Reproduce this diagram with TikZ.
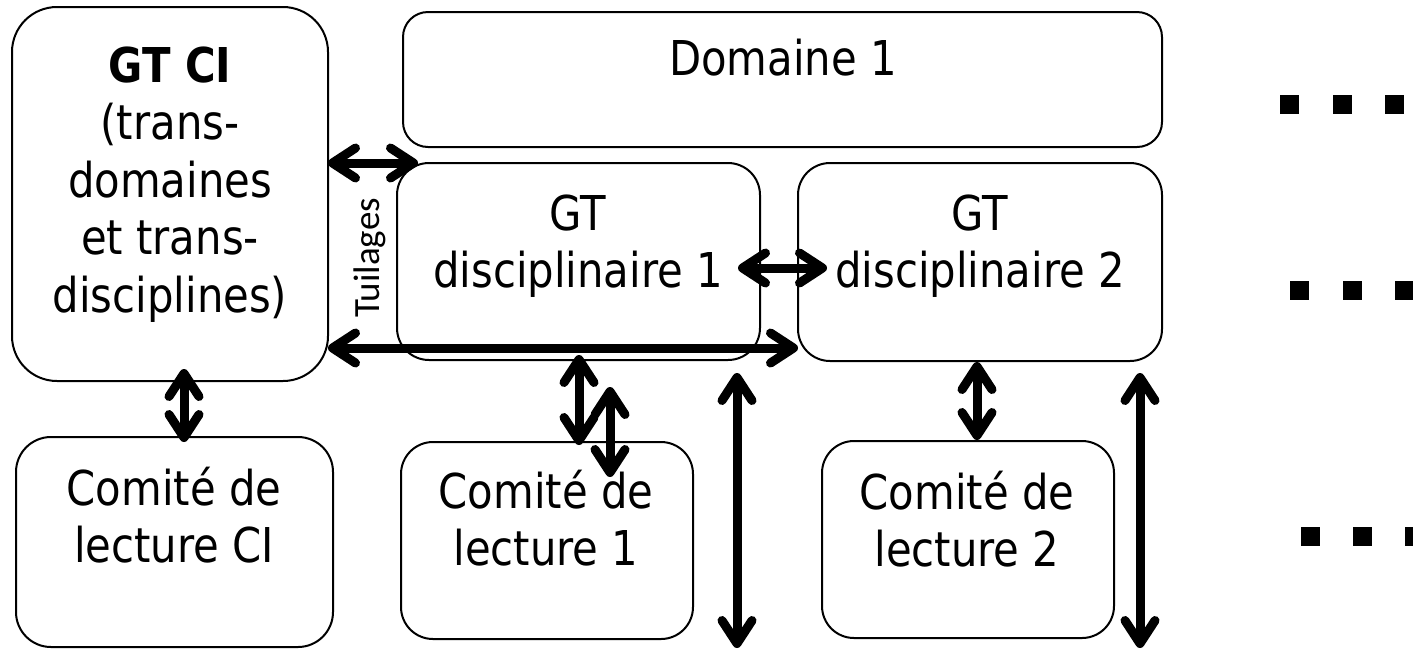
\documentclass[tikz,border=0pt]{standalone}
\usepackage{fontspec}
\setmainfont[FakeStretch=0.87]{DejaVu Sans}
\newfontfamily\tuilfont{Carlito}
\usetikzlibrary{arrows.meta,calc}
\newcommand{\mlines}[1]{\begin{tabular}[t]{@{}c@{}}#1\end{tabular}}
\begin{document}
\begin{tikzpicture}[x=1pt,y=-1pt,
  box/.style={draw, line width=2pt, inner sep=0pt, outer sep=0pt, rounded corners=#1},
  box/.default=32pt,
  txt/.style={anchor=base, inner sep=0pt, outer sep=0pt, font=\fontsize{48}{57.5}\selectfont},
  tip/.tip={Straight Barb[length=23pt,width=30pt,round]},
  arr/.style={line width=9pt, tip-tip},
  dotsq/.style={fill=black}]
\clip (0,0) rectangle (1413,649);
\fill[white] (0,0) rectangle (1413,649);

% boxes
\node[box=45pt, minimum width=316pt, minimum height=374pt] (gtci) at (170,194) {};
\node[box=25pt, minimum width=759pt, minimum height=135pt] (dom1) at (782.5,79.5) {};
\node[box, minimum width=363pt, minimum height=197pt] (gtd1) at (578.5,261.5) {};
\node[box, minimum width=364pt, minimum height=198pt] (gtd2) at (980,262) {};
\node[box=35pt, minimum width=317pt, minimum height=210pt] (cci) at (174.5,542) {};
\node[box, minimum width=292pt, minimum height=197pt] (cl1) at (547,540.5) {};
\node[box, minimum width=292pt, minimum height=197pt] (cl2) at (968,539.5) {};

% texts
\node[txt] (tgtci) at (170,82) {\mlines{\textbf{GT CI}\\(trans-\\domaines\\et trans-\\disciplines)}};
\node[txt] (tdom1) at (783,75) {Domaine 1};
\node[txt] (tgtd1) at (578,230) {\mlines{GT\\disciplinaire 1}};
\node[txt] (tgtd2) at (980,230) {\mlines{GT\\disciplinaire 2}};
\node[txt] (tcci) at (174,505) {\mlines{Comité de\\lecture CI}};
\node[txt] (tcl1) at (546,508) {\mlines{Comité de\\lecture 1}};
\node[txt] (tcl2) at (967,509) {\mlines{Comité de\\lecture 2}};
\node[rotate=90, inner sep=0pt, font=\tuilfont\fontsize{37}{44}\selectfont] (tuil) at (370,258) {Tuilages};

% free ends
\coordinate (g1) at (737,373);
\coordinate (g2) at (737,648);
\coordinate (i1) at (1140,373);
\coordinate (i2) at (1140,648);

% connectors
\draw[arr] (gtci.east |- 0,163) -- ($(gtd1.north west)+(21,0)$);
\draw[arr] (gtci.east |- 0,348) -- (gtd2.west |- 0,348);
\draw[arr] ($(gtd1.east)+(-22,6.5)$) -- ($(gtd2.west)+(29,6)$);
\draw[arr] ($(gtci.south)+(14,-12)$) -- ($(cci.north)+(9.5,5)$);
\draw[arr] ($(gtd1.south)+(0.5,-5)$) -- ($(cl1.north)+(32,3)$);
\draw[arr] ($(gtd1.south)+(31.5,27)$) -- ($(cl1.north)+(63,35)$);
\draw[arr] (g1) -- (g2);
\draw[arr] ($(gtd2.south)+(-3,1)$) -- ($(cl2.north)+(9,-1)$);
\draw[arr] (i1) -- (i2);

% ellipsis squares
\foreach \x in {1280,1333,1385} \fill[dotsq] (\x,95) rectangle +(19,19);
\foreach \x in {1290,1343,1395} \fill[dotsq] (\x,281) rectangle +(19,19);
\foreach \x in {1301,1353,1405} \fill[dotsq] (\x,527) rectangle +(19,19);
\end{tikzpicture}
\end{document}
